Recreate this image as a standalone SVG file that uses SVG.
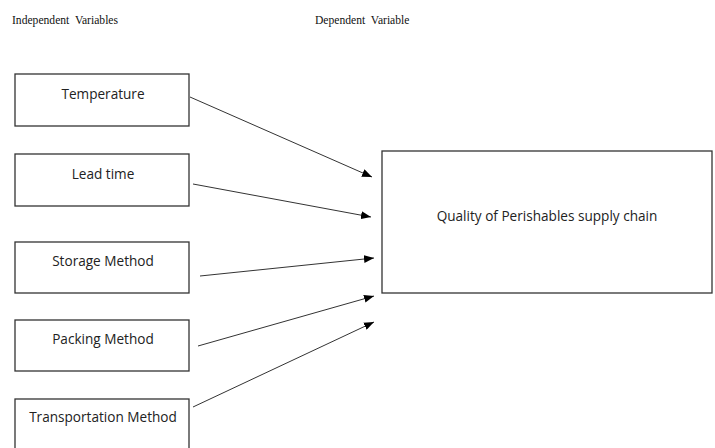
<svg xmlns="http://www.w3.org/2000/svg" width="715" height="448" viewBox="0 0 715 448">
<style>
.box{fill:#fff;stroke:#333;stroke-width:1.3}
.lbl{font-family:"Open Sans","Liberation Sans",sans-serif;font-size:13.6px;fill:#222;text-anchor:middle}
.hdr{font-family:"Liberation Serif",serif;font-size:11.6px;fill:#111}
.conn{stroke:#333;stroke-width:1;fill:none;marker-end:url(#ah)}
</style>
<defs>
<marker id="ah" markerWidth="10" markerHeight="8" refX="10" refY="4" orient="auto" markerUnits="userSpaceOnUse">
<path d="M0,0 L10,4 L0,8 Z" fill="#000"/>
</marker>
</defs>
<rect width="715" height="448" fill="#fff"/>
<text class="hdr" x="12" y="24" xml:space="preserve">Independent  Variables</text>
<text class="hdr" x="315" y="24" xml:space="preserve">Dependent  Variable</text>
<g id="temperature"><rect class="box" x="15" y="74" width="174" height="52"/><text class="lbl" x="103" y="99">Temperature</text></g>
<g id="leadtime"><rect class="box" x="15" y="154" width="174" height="52"/><text class="lbl" x="103" y="179">Lead time</text></g>
<g id="storage"><rect class="box" x="15" y="242" width="174" height="51"/><text class="lbl" x="103" y="266">Storage Method</text></g>
<g id="packing"><rect class="box" x="15" y="320" width="174" height="51"/><text class="lbl" x="103" y="344">Packing Method</text></g>
<g id="transport"><rect class="box" x="15" y="399" width="174" height="60"/><text class="lbl" x="103" y="422">Transportation Method</text></g>
<g id="quality"><rect class="box" x="382" y="151" width="330" height="142"/><text class="lbl" x="547" y="221">Quality of Perishables supply chain</text></g>
<g id="connectors">
<line class="conn" x1="190" y1="97" x2="372" y2="177"/>
<line class="conn" x1="193" y1="184" x2="371" y2="217"/>
<line class="conn" x1="200" y1="276" x2="374" y2="258"/>
<line class="conn" x1="198" y1="346" x2="374" y2="296"/>
<line class="conn" x1="193" y1="407" x2="374" y2="322"/>
</g>
</svg>
